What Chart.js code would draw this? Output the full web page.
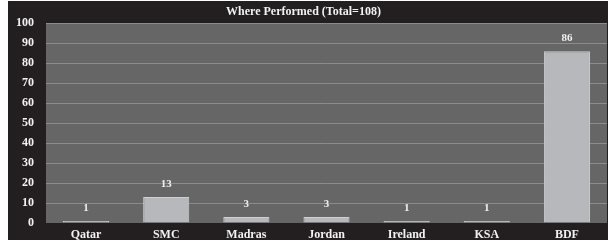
<!DOCTYPE html>
<html>
<head>
<meta charset="utf-8">
<script src="https://cdn.jsdelivr.net/npm/chart.js@4/dist/chart.umd.min.js"></script>
<style>
  html, body { margin: 0; padding: 0; background: #fff; }
  #wrap { width: 613px; height: 245px; }
</style>
</head>
<body>
<div id="wrap"><canvas id="chart" width="613" height="245"></canvas></div>
<script>
const places = ["Qatar", "SMC", "Madras", "Jordan", "Ireland", "KSA", "BDF"];
const counts = [1, 13, 3, 3, 1, 1, 86];
const yTicks = [0, 10, 20, 30, 40, 50, 60, 70, 80, 90, 100];

const FONT = "'Liberation Serif', 'DejaVu Serif', serif";

// dark frame + grey plot area
const backdrop = {
  id: "backdrop",
  beforeDraw(chart) {
    const { ctx, chartArea: a } = chart;
    ctx.save();
    ctx.fillStyle = "#231f20";
    ctx.fillRect(8, 1, 600, 239);
    ctx.fillStyle = "#666666";
    ctx.fillRect(a.left, a.top, a.right - a.left, a.bottom - a.top);
    ctx.restore();
  }
};

// value labels above the bars
const valueLabels = {
  id: "valueLabels",
  afterDatasetsDraw(chart) {
    const { ctx } = chart;
    const meta = chart.getDatasetMeta(0);
    ctx.save();
    ctx.fillStyle = "#f2f2f2";
    ctx.font = "bold 11px " + FONT;
    ctx.textAlign = "center";
    ctx.textBaseline = "middle";
    meta.data.forEach((bar, i) => {
      ctx.fillText(String(counts[i]), bar.x, bar.y - 13);
    });
    ctx.restore();
  }
};

new Chart(document.getElementById("chart"), {
  type: "bar",
  data: {
    labels: places,
    datasets: [{
      data: counts,
      backgroundColor: "#b7b8bb",
      borderColor: "#cfd0d2",
      borderWidth: 1,
      categoryPercentage: 1,
      barPercentage: 0.575
    }]
  },
  options: {
    responsive: false,
    animation: false,
    layout: { padding: { left: 0, right: 6, top: 0, bottom: 0 } },
    plugins: {
      legend: { display: false },
      tooltip: { enabled: false },
      title: {
        display: true,
        text: "Where Performed (Total=108)",
        color: "#f2f2f2",
        font: { family: FONT, size: 12, weight: "bold" },
        padding: { top: 5, bottom: 4 }
      }
    },
    scales: {
      x: {
        grid: { display: false, drawTicks: false },
        border: { display: false },
        ticks: {
          color: "#f2f2f2",
          font: { family: FONT, size: 12, weight: "bold" },
          padding: 5,
          maxRotation: 0
        },
        afterFit(scale) { scale.height = 22; }
      },
      y: {
        min: 0,
        max: 100,
        afterBuildTicks(scale) { scale.ticks = yTicks.map(v => ({ value: v })); },
        grid: {
          color: ctx => ctx.tick && ctx.tick.value === 0 ? "rgba(0,0,0,0)" : "#8c8c8c",
          lineWidth: 1,
          drawTicks: false
        },
        border: { display: false },
        ticks: {
          color: "#f2f2f2",
          font: { family: FONT, size: 12, weight: "bold" },
          padding: 12
        },
        afterFit(scale) { scale.width = 46; }
      }
    }
  },
  plugins: [backdrop, valueLabels]
});
</script>
</body>
</html>
